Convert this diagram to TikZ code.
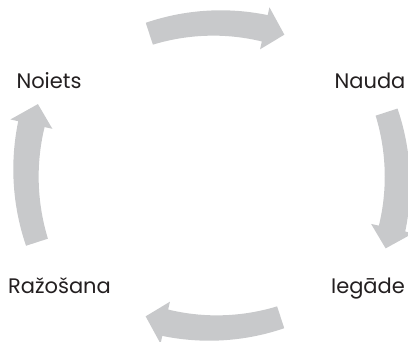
\documentclass[tikz,border=0pt]{standalone}
\usepackage{fontspec}
\setmainfont{Poppins}
\definecolor{arrowgray}{RGB}{200,201,203}
\definecolor{txt}{RGB}{35,31,32}
\newcommand\cycarrow[4]{%
  \pgfmathsetmacro\aT{#4+18}%
  \pgfmathsetmacro\aB{#4-12.6}%
  \pgfmathsetmacro\aP{#4-18}%
  \pgfmathsetmacro\rO{#3+21.5}%
  \pgfmathsetmacro\rI{#3-21.5}%
  \pgfmathsetmacro\rP{#3-1}%
  \begin{scope}[shift={(#1,-#2)}]
    \fill[arrowgray] plot[domain=\aT:\aB, samples=30, variable=\t] (\t:{#3+11.5+2*(\aT-\t)/30.6})
      -- (\aB:\rO) -- (\aP:\rP) -- (\aB:\rI)
      -- plot[domain=\aB:\aT, samples=30, variable=\t] (\t:{#3-11.5-2*(\aT-\t)/30.6}) -- cycle;
  \end{scope}}
\tikzset{lbl/.style={anchor=base, inner sep=0pt, text=txt, font=\fontsize{21}{23}\selectfont}}
\begin{document}
\begin{tikzpicture}[x=1pt,y=1pt]
\useasboundingbox (0,0) rectangle (408,-341);
\clip (0,0) rectangle (408,-341);
\cycarrow{217}{242}{219}{90}
\cycarrow{176.4}{180.4}{221}{0}
\cycarrow{213}{109}{219}{-90}
\cycarrow{250}{173}{224}{180}
\node[lbl] (noiets) at (49,-88) {Noiets};
\node[lbl] (nauda) at (370,-88) {Nauda};
\node[lbl] (iegade) at (368,-293) {Iegāde};
\node[lbl] (razosana) at (59.5,-293) {Ražošana};
\end{tikzpicture}
\end{document}
